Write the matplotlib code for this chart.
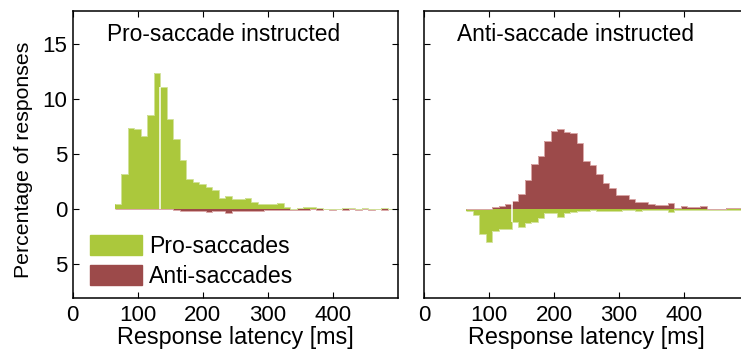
import numpy as np
import matplotlib
matplotlib.use('Agg')
from matplotlib import pyplot as plt
from matplotlib.patches import Patch
from matplotlib.ticker import FuncFormatter

plt.rcParams['font.family'] = ['Liberation Sans', 'DejaVu Sans']

# latency bins, 10 ms wide, left edges 65..485 ms
bin_edges = np.arange(65, 495, 10)

# pro-saccade instructed trials (% of responses per bin)
pro_instr_pro = [0.45, 3.2, 7.4, 7.3, 6.7, 8.6, 12.4, 11.15, 8.2, 6.4,
                 4.5, 2.8, 2.5, 2.3, 2.0, 1.8, 1.05, 1.2, 0.95, 0.95,
                 1.05, 0.64, 0.5, 0.47, 0.47, 0.57, 0.18, 0.08, 0.15, 0.25,
                 0.2, 0.15, 0.05, 0.0, 0.03, 0.1, 0.15, 0.0, 0.12, 0.05,
                 0.05, 0.12, 0.05]
pro_instr_anti = [0, 0, 0, 0, 0, 0, 0, 0, 0, 0.05,
                  0.1, 0.15, 0.15, 0.1, 0.2, 0.15, 0.1, 0.3, 0.12, 0.12,
                  0.12, 0.12, 0.1, 0.05, 0.05, 0.08, 0.05, 0.05, 0.08, 0.05,
                  0.0, 0.08, 0.0, 0.05, 0.0, 0.05, 0.0, 0.05, 0.0, 0.05,
                  0.0, 0.05, 0.0]

# anti-saccade instructed trials
anti_instr_anti = [0, 0, 0, 0.05, 0.18, 0.33, 0.5, 0.75, 1.4, 2.7,
                   4.1, 4.85, 6.25, 7.15, 7.27, 7.05, 6.9, 6.05, 4.4, 4.0,
                   3.2, 2.36, 1.9, 1.27, 1.33, 0.97, 0.7, 0.7, 0.52, 0.36,
                   0.36, 0.55, 0.1, 0.3, 0.2, 0.2, 0.3, 0.08, 0.08, 0.05,
                   0.1, 0.1, 0.1]
anti_instr_pro = [0.15, 0.55, 2.2, 3.0, 2.0, 1.8, 1.8, 1.15, 1.6, 1.27,
                  1.15, 0.75, 0.36, 0.36, 0.67, 0.36, 0.2, 0.15, 0.1, 0.05,
                  0.1, 0.15, 0.1, 0.1, 0.05, 0.05, 0.15, 0.05, 0.05, 0.05,
                  0.05, 0.2, 0.05, 0.03, 0.03, 0.03, 0.03, 0.03, 0.03, 0.03,
                  0.03, 0.03, 0.03]

split_ms = 135
c_pro = '#abc83c'
c_anti = '#9c4a4a'
c_pro_edge = '#d2e29a'
c_anti_edge = '#d9a7a7'

fig = plt.figure(figsize=(7.41, 3.54), dpi=100)
ax1 = fig.add_axes([0.0981, 0.158, 0.4386, 0.812])
ax2 = fig.add_axes([0.5722, 0.158, 0.4386, 0.812])


def dr_hist(ax, up, down, c_up, c_down, e_up, e_down):
    up = np.asarray(up, float)
    down = np.asarray(down, float)
    edges = np.append(bin_edges, bin_edges[-1] + 10)
    ax.bar(bin_edges, down * -1, width=10, align='edge', color=c_down, lw=0)
    ax.bar(bin_edges, up, width=10, align='edge', color=c_up, lw=0)
    ax.stairs(-down, edges, color=e_down, lw=0.7, baseline=None)
    ax.stairs(up, edges, color=e_up, lw=0.7, baseline=None)
    k = list(bin_edges).index(split_ms)
    ax.vlines(split_ms, -down[k], up[k], color='white', lw=1.1, zorder=3)


dr_hist(ax1, pro_instr_pro, pro_instr_anti, c_pro, c_anti, c_pro_edge, c_anti_edge)
dr_hist(ax2, anti_instr_anti, anti_instr_pro, c_anti, c_pro, c_anti_edge, c_pro_edge)

for ax in (ax1, ax2):
    ax.set_xlim(0, 500)
    ax.set_ylim(-8.05, 18.05)
    ax.set_xticks([0, 100, 200, 300, 400])
    ax.set_yticks([-5, 0, 5, 10, 15])
    ax.yaxis.set_major_formatter(FuncFormatter(lambda v, p: '%d' % abs(v)))
    ax.tick_params(direction='in', length=4, width=0.8, top=True, right=True,
                   labelsize=16, pad=5)
    ax.tick_params(axis='y', pad=4)
    for s in ax.spines.values():
        s.set_linewidth(1.1)
    ax.set_xlabel('Response latency [ms]', fontsize=16.8, labelpad=0)

ax2.tick_params(labelleft=False)
ax1.set_ylabel('Percentage of responses', fontsize=15.3)
ax1.yaxis.set_label_coords(-0.122, 0.48)

ax1.text(0.105, 0.894, 'Pro-saccade instructed', transform=ax1.transAxes,
         fontsize=16.4, va='baseline', ha='left')
ax2.text(0.1015, 0.894, 'Anti-saccade instructed', transform=ax2.transAxes,
         fontsize=16.4, va='baseline', ha='left')

handles = [Patch(color=c_pro, label='Pro-saccades'),
           Patch(color=c_anti, label='Anti-saccades')]
ax1.legend(handles=handles, loc='lower left', bbox_to_anchor=(0.053, 0.035),
           frameon=False, fontsize=16.6, handlelength=2.25, handleheight=0.91,
           handletextpad=0.3, labelspacing=0.3, borderpad=0, borderaxespad=0)

fig.savefig('out.png', dpi=100)
